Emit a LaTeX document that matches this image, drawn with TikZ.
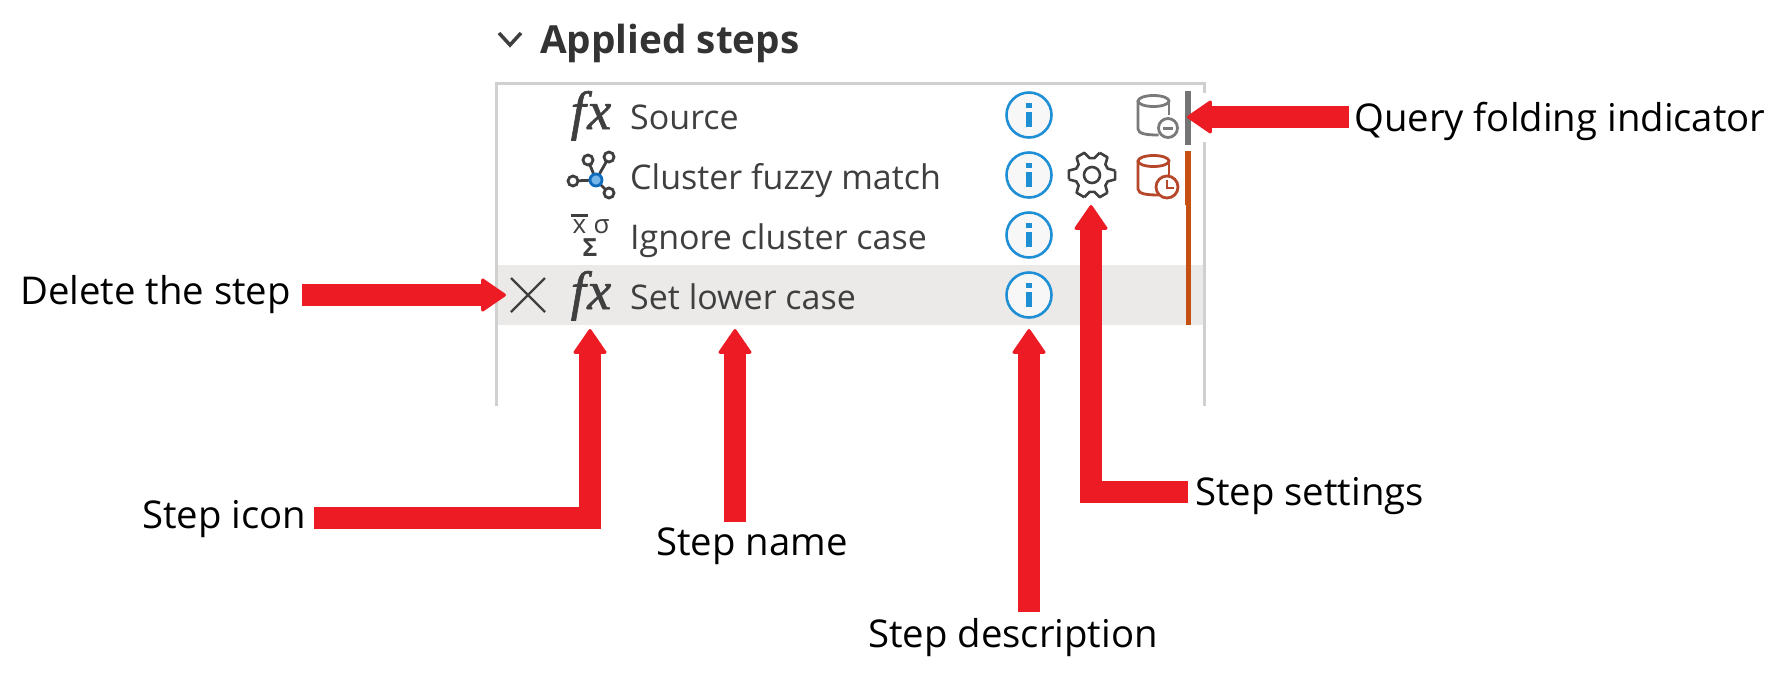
\documentclass[tikz,border=0pt]{standalone}
\usepackage{fontspec}
\setmainfont{Open Sans}
\newfontfamily\fxfont[FakeBold=1.2]{Liberation Serif}
\usetikzlibrary{arrows.meta}
\definecolor{arrowred}{HTML}{ED1C24}
\definecolor{icongrey}{HTML}{3F3F3F}
\definecolor{paneline}{HTML}{D0D0D0}
\definecolor{rowband}{HTML}{EBEAE9}
\definecolor{infoblue}{HTML}{1E8FD5}
\definecolor{dbgrey}{HTML}{7A7A7A}
\definecolor{dbred}{HTML}{B7472A}
\definecolor{foldorange}{HTML}{C55011}
\definecolor{hubline}{HTML}{0F6CBD}
\definecolor{hubfill}{HTML}{75B5EA}
\tikzset{
  callout/.style={anchor=base west,inner sep=0pt,text=black,font=\fontsize{38.3}{42}\selectfont},
  rowtext/.style={anchor=base west,inner sep=0pt,text=icongrey,font=\fontsize{34}{38}\selectfont},
  fxicon/.style={anchor=base,inner sep=0pt,text=icongrey,font=\fontsize{54}{58}\selectfont\fxfont\itshape},
  pointer/.style={draw=arrowred,line width=22pt,-{Triangle[width=35pt,length=26pt,line width=3pt,round,fill=arrowred]},line join=miter},
  pane/.style={draw=paneline,line width=3pt},
  infoicon/.style={circle,draw=infoblue,fill=white!97!black,line width=2.6pt,minimum size=45pt,inner sep=0pt},
}
\newcommand{\infoat}[2]{%
  \node[infoicon] (#2) at (#1) {};
  \fill[infoblue] ([shift={(-3.2,-12.5)}]#2.center) rectangle ([shift={(3.2,-6.8)}]#2.center);
  \fill[infoblue] ([shift={(-3.2,-3)}]#2.center) rectangle ([shift={(3.2,12)}]#2.center);
}
\newcommand{\dbicon}[2]{%
  \begin{scope}[shift={(#1)},draw=#2,line width=2.8pt]
    \draw (0,6) ellipse [x radius=15.5,y radius=5.5];
    \draw (-15.5,6) -- (-15.5,34) .. controls (-15.5,39) and (-6,40) .. (5,40);
    \draw (15.5,6) -- (15.5,20);
  \end{scope}}
\begin{document}
\begin{tikzpicture}[x=1pt,y=-1pt]
\useasboundingbox (0,0) rectangle (1788,681);
\fill[white] (0,0) rectangle (1788,681);

% panel
\fill[rowband] (498,265) rectangle (1203,325);
\draw[pane] (496,406) -- (496,83) -- (1204.5,83) -- (1204.5,93);
\draw[pane] (1204.5,142) -- (1204.5,406);

% heading
\draw[draw=icongrey,line width=3.5pt] (499,33) -- (510,45) -- (521,33);
\node[anchor=base west,inner sep=0pt,text=black!80,font=\fontsize{38.7}{42}\selectfont\bfseries] (heading) at (540,53) {Applied steps};

% row text
\node[rowtext] (r1) at (630,129) {Source};
\node[rowtext] (r2) at (630,189) {Cluster fuzzy match};
\node[rowtext] (r3) at (630,249) {Ignore cluster case};
\node[rowtext] (r4) at (630,309) {Set lower case};

% step icons
\node[fxicon] (fx1) at (591,129) {f\kern1.5pt x};
\node[fxicon] (fx4) at (591,309) {f\kern1.5pt x};

\begin{scope}[draw=icongrey,line width=2.8pt]
  \coordinate (hub) at (596,180);
  \draw (hub) -- (573,181) (hub) -- (588,160) (hub) -- (609,157) (hub) -- (609,193);
  \draw[fill=white] (573,181) circle (5);
  \draw[fill=white] (588,160) circle (5);
  \draw[fill=white] (609,157) circle (5);
  \draw[fill=white] (609,193) circle (5);
  \draw[draw=hubline,fill=hubfill,line width=2.8pt] (hub) circle (6);
\end{scope}

\fill[icongrey] (570.5,214) rectangle (587.5,216.5);
\node[inner sep=0pt,text=icongrey,font=\fontsize{26}{28}\selectfont] (statx) at (579.5,227) {x};
\node[inner sep=0pt,text=icongrey,font=\fontsize{26}{28}\selectfont] (stats) at (601.5,227) {σ};
\node[inner sep=0pt,text=icongrey,font=\fontsize{25}{27}\selectfont\bfseries] (statS) at (590,248) {Σ};

\draw[draw=icongrey,line width=2.3pt] (511,278) -- (545,312) (545,278) -- (511,312);
\coordinate (delicon) at (506,295);

% info icons
\infoat{1029,115}{i1}
\infoat{1029,175}{i2}
\infoat{1029,235}{i3}
\infoat{1029,295}{i4}

% gear
\begin{scope}[shift={(1092,175)},draw=icongrey,line width=2.6pt,line join=round]
  \foreach \a in {0,60,...,300}{
    \draw (\a-11:23.5) -- (\a+11:23.5) -- (\a+22:17) -- (\a+38:17) -- (\a+49:23.5);
  }
  \draw (0,0) circle (8);
\end{scope}

% database icons
\dbicon{1153.5,95}{dbgrey}
\draw[draw=dbgrey,line width=2.8pt,fill=white] (1168,128) circle (9.5);
\draw[draw=dbgrey,line width=3pt] (1163,128) -- (1173,128);
\dbicon{1153.5,155}{dbred}
\draw[draw=dbred,line width=2.8pt,fill=white] (1167,187) circle (11);
\draw[draw=dbred,line width=2.8pt] (1167,180) -- (1167,188) -- (1174,188);

% folding bars
\fill[dbgrey!95!black] (1185,91) rectangle (1191,145);
\fill[foldorange] (1185,151) rectangle (1191,205);
\fill[foldorange] (1186,205) rectangle (1191,325);

% callout labels
\node[callout] (ldel) at (20,304) {Delete the step};
\node[callout] (licon) at (142,528) {Step icon};
\node[callout] (lname) at (656,555) {Step name};
\node[callout] (ldesc) at (868,647) {Step description};
\node[callout] (lset) at (1195,505) {Step settings};
\node[callout] (lqry) at (1354,131) {Query folding indicator};

% connector ends
\coordinate (sdel) at (302,295);
\coordinate (sicon) at (314,518);
\coordinate (tfx) at (590,329);
\coordinate (sname) at (735,522);
\coordinate (tname) at (735,329);
\coordinate (sdesc) at (1029,612);
\coordinate (tdesc) at (1029,329);
\coordinate (sset) at (1188,492);
\coordinate (tset) at (1091,205);
\coordinate (sqry) at (1349,117);
\coordinate (tqry) at (1187,117);

\draw[pointer] (sdel) -- (delicon);
\draw[pointer] (sicon) -| (tfx);
\draw[pointer] (sname) -- (tname);
\draw[pointer] (sdesc) -- (tdesc);
\draw[pointer] (sset) -| (tset);
\draw[pointer] (sqry) -- (tqry);
\end{tikzpicture}
\end{document}
